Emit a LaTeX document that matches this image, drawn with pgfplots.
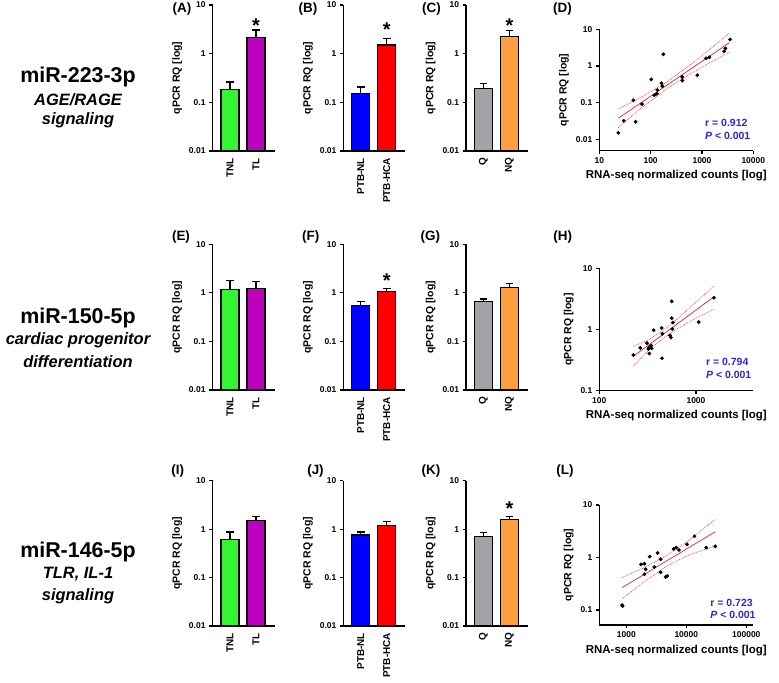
\documentclass[border=0pt]{standalone}
\usepackage{pgfplots}
\pgfplotsset{compat=1.18}
\usepackage{fontspec}
\setmainfont{Liberation Sans}
\definecolor{cgreen}{RGB}{51,245,51}
\definecolor{cpurple}{RGB}{190,0,190}
\definecolor{cblue}{RGB}{0,0,255}
\definecolor{cred}{RGB}{255,0,0}
\definecolor{cgrey}{RGB}{162,162,168}
\definecolor{corange}{RGB}{255,160,64}
\definecolor{lred}{RGB}{210,60,60}
\definecolor{tblue}{RGB}{40,40,210}
\pgfplotsset{
 every axis/.append style={scale only axis, axis x line*=bottom, axis y line*=left,
   axis line style={line width=1.1bp}, tick align=outside, major tick length=3.5bp,
   tick style={black, line width=1.1bp}, minor tick style={draw=none},
   tick label style={font=\fontsize{8.5}{8.5}\selectfont\bfseries},
   ylabel style={font=\fontsize{10.5}{10.5}\selectfont\bfseries},
   xlabel style={font=\fontsize{11.5}{11.5}\selectfont\bfseries},
   clip=false},
}
\begin{document}
\begin{tikzpicture}
\path[use as bounding box] (0,0) rectangle (779bp,683bp);
% row labels
\node[font=\fontsize{21.5}{21.5}\selectfont\bfseries] at (78bp,606bp) {miR-223-3p};
\node[font=\fontsize{16.5}{16.5}\selectfont\bfseries\itshape] at (78bp,583.5bp) {AGE/RAGE};
\node[font=\fontsize{16.5}{16.5}\selectfont\bfseries\itshape] at (78bp,562.5bp) {signaling};
\node[font=\fontsize{21.5}{21.5}\selectfont\bfseries] at (78bp,365bp) {miR-150-5p};
\node[font=\fontsize{16.5}{16.5}\selectfont\bfseries\itshape] at (78bp,343bp) {cardiac progenitor};
\node[font=\fontsize{16.5}{16.5}\selectfont\bfseries\itshape] at (78bp,321bp) {differentiation};
\node[font=\fontsize{21.5}{21.5}\selectfont\bfseries] at (78bp,131bp) {miR-146-5p};
\node[font=\fontsize{16.5}{16.5}\selectfont\bfseries\itshape] at (78bp,109bp) {TLR, IL-1};
\node[font=\fontsize{16.5}{16.5}\selectfont\bfseries\itshape] at (78bp,87bp) {signaling};
% panel letters
\node[font=\fontsize{13.5}{13.5}\selectfont\bfseries] at (182bp,674bp) {(A)};
\node[font=\fontsize{13.5}{13.5}\selectfont\bfseries] at (308bp,674bp) {(B)};
\node[font=\fontsize{13.5}{13.5}\selectfont\bfseries] at (431.5bp,674bp) {(C)};
\node[font=\fontsize{13.5}{13.5}\selectfont\bfseries] at (562.5bp,674bp) {(D)};
\node[font=\fontsize{13.5}{13.5}\selectfont\bfseries] at (181bp,445.5bp) {(E)};
\node[font=\fontsize{13.5}{13.5}\selectfont\bfseries] at (310.7bp,445.5bp) {(F)};
\node[font=\fontsize{13.5}{13.5}\selectfont\bfseries] at (430.3bp,445.5bp) {(G)};
\node[font=\fontsize{13.5}{13.5}\selectfont\bfseries] at (562.8bp,445.5bp) {(H)};
\node[font=\fontsize{13.5}{13.5}\selectfont\bfseries] at (177.7bp,212bp) {(I)};
\node[font=\fontsize{13.5}{13.5}\selectfont\bfseries] at (315.5bp,212bp) {(J)};
\node[font=\fontsize{13.5}{13.5}\selectfont\bfseries] at (431bp,212bp) {(K)};
\node[font=\fontsize{13.5}{13.5}\selectfont\bfseries] at (565bp,212bp) {(L)};
% ================= Row 1 =================
\begin{axis}[ymode=log, log origin=infty, ymin=0.01, ymax=10, width=62bp, height=146bp,
  at={(212.5bp,532bp)}, anchor=south west,
  ytick={0.01,0.1,1,10}, yticklabels={0.01,0.1,1,10},
  xmin=0.327, xmax=2.712, xtick={1,2}, xticklabels={TNL,TL}, xtick style={draw=none},
  xticklabel style={rotate=90, anchor=east, font=\fontsize{10}{10}\selectfont\bfseries},
  ylabel={qPCR RQ [log]}]
\addplot[black, line width=1.1bp] coordinates {(1,0.186) (1,0.262)};
\addplot[black, line width=1.1bp] coordinates {(0.85,0.262) (1.15,0.262)};
\addplot[black, line width=1.1bp] coordinates {(2,2.17) (2,3.07)};
\addplot[black, line width=1.1bp] coordinates {(1.85,3.07) (2.15,3.07)};
\addplot[ybar, bar width=18bp, bar shift=0pt, draw=black, line width=1.1bp, fill=cgreen] coordinates {(1,0.186)};
\addplot[ybar, bar width=18bp, bar shift=0pt, draw=black, line width=1.1bp, fill=cpurple] coordinates {(2,2.17)};
\node[font=\fontsize{20}{20}\selectfont\bfseries, yshift=-4bp] at (axis cs:2,4.54) {*};
\end{axis}
\begin{axis}[ymode=log, log origin=infty, ymin=0.01, ymax=10, width=62bp, height=146bp,
  at={(343.3bp,532bp)}, anchor=south west,
  ytick={0.01,0.1,1,10}, yticklabels={0.01,0.1,1,10},
  xmin=0.327, xmax=2.712, xtick={1,2}, xticklabels={PTB-NL,PTB-HCA}, xtick style={draw=none},
  xticklabel style={rotate=90, anchor=east, font=\fontsize{10}{10}\selectfont\bfseries},
  ylabel={qPCR RQ [log]}]
\addplot[black, line width=1.1bp] coordinates {(1,0.151) (1,0.207)};
\addplot[black, line width=1.1bp] coordinates {(0.85,0.207) (1.15,0.207)};
\addplot[black, line width=1.1bp] coordinates {(2,1.51) (2,2.07)};
\addplot[black, line width=1.1bp] coordinates {(1.85,2.07) (2.15,2.07)};
\addplot[ybar, bar width=18bp, bar shift=0pt, draw=black, line width=1.1bp, fill=cblue] coordinates {(1,0.151)};
\addplot[ybar, bar width=18bp, bar shift=0pt, draw=black, line width=1.1bp, fill=cred] coordinates {(2,1.51)};
\node[font=\fontsize{20}{20}\selectfont\bfseries, yshift=-4bp] at (axis cs:2,3.71) {*};
\end{axis}
\begin{axis}[ymode=log, log origin=infty, ymin=0.01, ymax=10, width=62bp, height=146bp,
  at={(466bp,532bp)}, anchor=south west,
  ytick={0.01,0.1,1,10}, yticklabels={0.01,0.1,1,10},
  xmin=0.327, xmax=2.712, xtick={1,2}, xticklabels={Q,NQ}, xtick style={draw=none},
  xticklabel style={rotate=90, anchor=east, font=\fontsize{10}{10}\selectfont\bfseries},
  ylabel={qPCR RQ [log]}]
\addplot[black, line width=1.1bp] coordinates {(1,0.195) (1,0.242)};
\addplot[black, line width=1.1bp] coordinates {(0.85,0.242) (1.15,0.242)};
\addplot[black, line width=1.1bp] coordinates {(2,2.23) (2,2.93)};
\addplot[black, line width=1.1bp] coordinates {(1.85,2.93) (2.15,2.93)};
\addplot[ybar, bar width=18bp, bar shift=0pt, draw=black, line width=1.1bp, fill=cgrey] coordinates {(1,0.195)};
\addplot[ybar, bar width=18bp, bar shift=0pt, draw=black, line width=1.1bp, fill=corange] coordinates {(2,2.23)};
\node[font=\fontsize{20}{20}\selectfont\bfseries, yshift=-4bp] at (axis cs:2,4.54) {*};
\end{axis}
\begin{axis}[xmode=log, ymode=log, width=154bp, height=121.4bp,
  at={(599.3bp,532.3bp)}, anchor=south west,
  xmin=10, xmax=10000, ymin=0.0049, ymax=10,
  xtick={10,100,1000,10000}, xticklabels={10,100,1000,10000},
  ytick={0.01,0.1,1,10}, yticklabels={0.01,0.1,1,10},
  ylabel={qPCR RQ [log]}, xlabel={RNA-seq normalized counts [log]}]
\addplot[lred, line width=0.7bp, densely dotted] coordinates {(23.4,0.0676) (63.1,0.136) (199.5,0.355) (631,1.16) (1585,3.21) (3420,7.85)};
\addplot[lred, line width=0.7bp, densely dotted] coordinates {(23.4,0.0209) (63.1,0.0682) (199.5,0.234) (631,0.64) (1585,1.34) (3420,2.37)};
\addplot[lred, line width=0.8bp] coordinates {(23.4,0.0376) (3420,4.32)};
\addplot[only marks, mark=*, mark size=1.7bp, black] coordinates {(3530,5.3) (2860,3.0) (2700,2.5) (1390,1.73) (1200,1.62) (177,2.08) (810,0.56) (410,0.50) (415,0.40) (103,0.43) (162,0.34) (169,0.28) (135,0.22) (132,0.175) (118,0.16) (46,0.116) (68,0.091) (30,0.032) (51,0.030) (23.5,0.015)};
\node[anchor=west, text=tblue, font=\fontsize{10.5}{10.5}\selectfont\bfseries] at (rel axis cs:0.665,0.228) {r = 0.912};
\node[anchor=west, text=tblue, font=\fontsize{10.5}{10.5}\selectfont\bfseries] at (rel axis cs:0.665,0.121) {\textit{P} < 0.001};
\end{axis}
% ================= Row 2 =================
\begin{axis}[ymode=log, log origin=infty, ymin=0.01, ymax=10, width=62bp, height=145.7bp,
  at={(212.5bp,293bp)}, anchor=south west,
  ytick={0.01,0.1,1,10}, yticklabels={0.01,0.1,1,10},
  xmin=0.327, xmax=2.712, xtick={1,2}, xticklabels={TNL,TL}, xtick style={draw=none},
  xticklabel style={rotate=90, anchor=east, font=\fontsize{10}{10}\selectfont\bfseries},
  ylabel={qPCR RQ [log]}]
\addplot[black, line width=1.1bp] coordinates {(1,1.19) (1,1.76)};
\addplot[black, line width=1.1bp] coordinates {(0.85,1.76) (1.15,1.76)};
\addplot[black, line width=1.1bp] coordinates {(2,1.24) (2,1.68)};
\addplot[black, line width=1.1bp] coordinates {(1.85,1.68) (2.15,1.68)};
\addplot[ybar, bar width=18bp, bar shift=0pt, draw=black, line width=1.1bp, fill=cgreen] coordinates {(1,1.19)};
\addplot[ybar, bar width=18bp, bar shift=0pt, draw=black, line width=1.1bp, fill=cpurple] coordinates {(2,1.24)};
\end{axis}
\begin{axis}[ymode=log, log origin=infty, ymin=0.01, ymax=10, width=62bp, height=145.7bp,
  at={(343.3bp,293bp)}, anchor=south west,
  ytick={0.01,0.1,1,10}, yticklabels={0.01,0.1,1,10},
  xmin=0.327, xmax=2.712, xtick={1,2}, xticklabels={PTB-NL,PTB-HCA}, xtick style={draw=none},
  xticklabel style={rotate=90, anchor=east, font=\fontsize{10}{10}\selectfont\bfseries},
  ylabel={qPCR RQ [log]}]
\addplot[black, line width=1.1bp] coordinates {(1,0.556) (1,0.659)};
\addplot[black, line width=1.1bp] coordinates {(0.85,0.659) (1.15,0.659)};
\addplot[black, line width=1.1bp] coordinates {(2,1.08) (2,1.24)};
\addplot[black, line width=1.1bp] coordinates {(1.85,1.24) (2.15,1.24)};
\addplot[ybar, bar width=18bp, bar shift=0pt, draw=black, line width=1.1bp, fill=cblue] coordinates {(1,0.556)};
\addplot[ybar, bar width=18bp, bar shift=0pt, draw=black, line width=1.1bp, fill=cred] coordinates {(2,1.08)};
\node[font=\fontsize{20}{20}\selectfont\bfseries, yshift=-4bp] at (axis cs:2,2.15) {*};
\end{axis}
\begin{axis}[ymode=log, log origin=infty, ymin=0.01, ymax=10, width=62bp, height=145.7bp,
  at={(466bp,293bp)}, anchor=south west,
  ytick={0.01,0.1,1,10}, yticklabels={0.01,0.1,1,10},
  xmin=0.327, xmax=2.712, xtick={1,2}, xticklabels={Q,NQ}, xtick style={draw=none},
  xticklabel style={rotate=90, anchor=east, font=\fontsize{10}{10}\selectfont\bfseries},
  ylabel={qPCR RQ [log]}]
\addplot[black, line width=1.1bp] coordinates {(1,0.671) (1,0.748)};
\addplot[black, line width=1.1bp] coordinates {(0.85,0.748) (1.15,0.748)};
\addplot[black, line width=1.1bp] coordinates {(2,1.28) (2,1.58)};
\addplot[black, line width=1.1bp] coordinates {(1.85,1.58) (2.15,1.58)};
\addplot[ybar, bar width=18bp, bar shift=0pt, draw=black, line width=1.1bp, fill=cgrey] coordinates {(1,0.671)};
\addplot[ybar, bar width=18bp, bar shift=0pt, draw=black, line width=1.1bp, fill=corange] coordinates {(2,1.28)};
\end{axis}
\begin{axis}[xmode=log, ymode=log, width=154bp, height=122.4bp,
  at={(599.3bp,292.3bp)}, anchor=south west,
  xmin=100, xmax=3917, ymin=0.1, ymax=10,
  xtick={100,1000}, xticklabels={100,1000},
  ytick={0.1,1,10}, yticklabels={0.1,1,10},
  ylabel={qPCR RQ [log]}, xlabel={RNA-seq normalized counts [log]}]
\addplot[lred, line width=0.7bp, densely dotted] coordinates {(225,0.532) (316,0.668) (447,0.944) (631,1.46) (1000,2.81) (1535,5.13)};
\addplot[lred, line width=0.7bp, densely dotted] coordinates {(225,0.251) (316,0.442) (447,0.70) (631,1.01) (1000,1.54) (1535,2.14)};
\addplot[lred, line width=0.8bp] coordinates {(225,0.365) (1535,3.43)};
\addplot[only marks, mark=*, mark size=1.7bp, black] coordinates {(1535,3.3) (561,2.88) (1066,1.32) (561,1.53) (578,1.30) (442,1.06) (569,1.02) (365,0.975) (449,0.85) (538,0.80) (551,0.74) (311,0.60) (343,0.547) (327,0.507) (348,0.493) (321,0.48) (265,0.50) (329,0.405) (225,0.384) (445,0.339)};
\node[anchor=west, text=tblue, font=\fontsize{10.5}{10.5}\selectfont\bfseries] at (rel axis cs:0.671,0.232) {r = 0.794};
\node[anchor=west, text=tblue, font=\fontsize{10.5}{10.5}\selectfont\bfseries] at (rel axis cs:0.671,0.128) {\textit{P} < 0.001};
\end{axis}
% ================= Row 3 =================
\begin{axis}[ymode=log, log origin=infty, ymin=0.01, ymax=10, width=62bp, height=145.3bp,
  at={(212.5bp,57bp)}, anchor=south west,
  ytick={0.01,0.1,1,10}, yticklabels={0.01,0.1,1,10},
  xmin=0.327, xmax=2.712, xtick={1,2}, xticklabels={TNL,TL}, xtick style={draw=none},
  xticklabel style={rotate=90, anchor=east, font=\fontsize{10}{10}\selectfont\bfseries},
  ylabel={qPCR RQ [log]}]
\addplot[black, line width=1.1bp] coordinates {(1,0.604) (1,0.871)};
\addplot[black, line width=1.1bp] coordinates {(0.85,0.871) (1.15,0.871)};
\addplot[black, line width=1.1bp] coordinates {(2,1.49) (2,1.84)};
\addplot[black, line width=1.1bp] coordinates {(1.85,1.84) (2.15,1.84)};
\addplot[ybar, bar width=18bp, bar shift=0pt, draw=black, line width=1.1bp, fill=cgreen] coordinates {(1,0.604)};
\addplot[ybar, bar width=18bp, bar shift=0pt, draw=black, line width=1.1bp, fill=cpurple] coordinates {(2,1.49)};
\end{axis}
\begin{axis}[ymode=log, log origin=infty, ymin=0.01, ymax=10, width=62bp, height=145.3bp,
  at={(343.3bp,57bp)}, anchor=south west,
  ytick={0.01,0.1,1,10}, yticklabels={0.01,0.1,1,10},
  xmin=0.327, xmax=2.712, xtick={1,2}, xticklabels={PTB-NL,PTB-HCA}, xtick style={draw=none},
  xticklabel style={rotate=90, anchor=east, font=\fontsize{10}{10}\selectfont\bfseries},
  ylabel={qPCR RQ [log]}]
\addplot[black, line width=1.1bp] coordinates {(1,0.755) (1,0.871)};
\addplot[black, line width=1.1bp] coordinates {(0.85,0.871) (1.15,0.871)};
\addplot[black, line width=1.1bp] coordinates {(2,1.18) (2,1.45)};
\addplot[black, line width=1.1bp] coordinates {(1.85,1.45) (2.15,1.45)};
\addplot[ybar, bar width=18bp, bar shift=0pt, draw=black, line width=1.1bp, fill=cblue] coordinates {(1,0.755)};
\addplot[ybar, bar width=18bp, bar shift=0pt, draw=black, line width=1.1bp, fill=cred] coordinates {(2,1.18)};
\end{axis}
\begin{axis}[ymode=log, log origin=infty, ymin=0.01, ymax=10, width=62bp, height=145.3bp,
  at={(466bp,57bp)}, anchor=south west,
  ytick={0.01,0.1,1,10}, yticklabels={0.01,0.1,1,10},
  xmin=0.327, xmax=2.712, xtick={1,2}, xticklabels={Q,NQ}, xtick style={draw=none},
  xticklabel style={rotate=90, anchor=east, font=\fontsize{10}{10}\selectfont\bfseries},
  ylabel={qPCR RQ [log]}]
\addplot[black, line width=1.1bp] coordinates {(1,0.719) (1,0.844)};
\addplot[black, line width=1.1bp] coordinates {(0.85,0.844) (1.15,0.844)};
\addplot[black, line width=1.1bp] coordinates {(2,1.59) (2,1.80)};
\addplot[black, line width=1.1bp] coordinates {(1.85,1.80) (2.15,1.80)};
\addplot[ybar, bar width=18bp, bar shift=0pt, draw=black, line width=1.1bp, fill=cgrey] coordinates {(1,0.719)};
\addplot[ybar, bar width=18bp, bar shift=0pt, draw=black, line width=1.1bp, fill=corange] coordinates {(2,1.59)};
\node[font=\fontsize{20}{20}\selectfont\bfseries, yshift=-4bp] at (axis cs:2,3.15) {*};
\end{axis}
\begin{axis}[xmode=log, ymode=log, width=154bp, height=120bp,
  at={(599.3bp,58bp)}, anchor=south west,
  xmin=355, xmax=130900, ymin=0.0518, ymax=10,
  xtick={1000,10000,100000}, xticklabels={1000,10000,100000},
  ytick={0.1,1,10}, yticklabels={0.1,1,10},
  ylabel={qPCR RQ [log]}, xlabel={RNA-seq normalized counts [log]}]
\addplot[lred, line width=0.7bp, densely dotted] coordinates {(847,0.412) (1928,0.631) (4625,1.072) (11090,2.138) (30400,5.33)};
\addplot[lred, line width=0.7bp, densely dotted] coordinates {(847,0.162) (1928,0.339) (4625,0.676) (11090,1.122) (30400,1.656)};
\addplot[lred, line width=0.8bp] coordinates {(847,0.266) (30400,3.10)};
\addplot[only marks, mark=*, mark size=1.7bp, black] coordinates {(30400,1.63) (21500,1.54) (13700,2.54) (10300,1.78) (7560,1.39) (6810,1.54) (6140,1.45) (3320,1.22) (2450,1.04) (3730,0.925) (1760,0.742) (2000,0.762) (2930,0.659) (2100,0.596) (3730,0.522) (2000,0.479) (4820,0.445) (4520,0.426) (847,0.124) (867,0.119)};
\node[anchor=west, text=tblue, font=\fontsize{10.5}{10.5}\selectfont\bfseries] at (rel axis cs:0.699,0.183) {r = 0.723};
\node[anchor=west, text=tblue, font=\fontsize{10.5}{10.5}\selectfont\bfseries] at (rel axis cs:0.699,0.083) {\textit{P} < 0.001};
\end{axis}
\end{tikzpicture}
\end{document}
